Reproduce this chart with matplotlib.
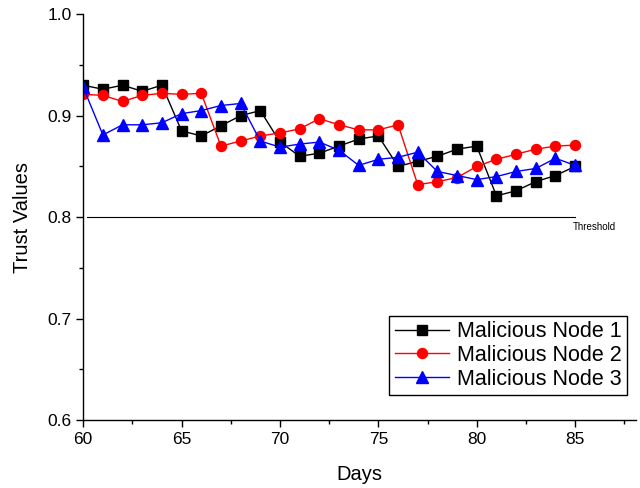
import matplotlib
matplotlib.use("Agg")
import matplotlib.pyplot as plt
from matplotlib.ticker import MultipleLocator, FormatStrFormatter

plt.rcParams['font.family'] = ['Liberation Sans', 'DejaVu Sans']

days = list(range(60, 86))
node1 = [0.930, 0.926, 0.930, 0.924, 0.930, 0.885, 0.880, 0.890, 0.900, 0.905,
         0.874, 0.860, 0.863, 0.870, 0.877, 0.880, 0.850, 0.855, 0.860, 0.867,
         0.870, 0.821, 0.826, 0.835, 0.841, 0.850]
node2 = [0.921, 0.920, 0.914, 0.920, 0.922, 0.921, 0.922, 0.870, 0.875, 0.880,
         0.883, 0.887, 0.897, 0.891, 0.886, 0.886, 0.891, 0.832, 0.835, 0.839,
         0.850, 0.857, 0.862, 0.867, 0.870, 0.871]
node3 = [0.928, 0.881, 0.891, 0.891, 0.893, 0.902, 0.905, 0.910, 0.912, 0.875,
         0.869, 0.872, 0.874, 0.866, 0.851, 0.857, 0.859, 0.864, 0.845, 0.841,
         0.837, 0.840, 0.845, 0.848, 0.858, 0.851]
labels = ["Malicious Node 1", "Malicious Node 2", "Malicious Node 3"]
threshold_value = 0.8
threshold_days = [60.2, 85]

fig = plt.figure(figsize=(6.4, 4.88), dpi=100)
ax = fig.add_axes([0.130, 0.139, 0.864, 0.832])

ax.plot(days, node1, color='black', marker='s', markersize=6.5, lw=1, label=labels[0])
ax.plot(days, node2, color='red', marker='o', markersize=7.2, lw=1, label=labels[1])
ax.plot(days, node3, color='blue', marker='^', markersize=8, lw=1, label=labels[2])

ax.plot(threshold_days, [threshold_value, threshold_value], color='black', lw=0.8)
ax.text(84.9, 0.790, "Threshold", fontsize=7, ha='left', va='center')

ax.set_xlim(60, 88.1)
ax.set_ylim(0.6, 1.0)
ax.xaxis.set_major_locator(MultipleLocator(5))
ax.xaxis.set_minor_locator(MultipleLocator(2.5))
ax.yaxis.set_major_locator(MultipleLocator(0.1))
ax.yaxis.set_minor_locator(MultipleLocator(0.05))
ax.yaxis.set_major_formatter(FormatStrFormatter('%.1f'))

for s in ['top', 'right']:
    ax.spines[s].set_visible(False)
for s in ['left', 'bottom']:
    ax.spines[s].set_linewidth(1.0)

ax.tick_params(which='major', direction='out', length=5, width=1, labelsize=12.5)
ax.tick_params(which='minor', direction='out', length=3, width=1)

ax.set_xlabel("Days", fontsize=14.5, labelpad=13)
ax.set_ylabel("Trust Values", fontsize=14.5, labelpad=11)

leg = ax.legend(loc='lower right', bbox_to_anchor=(0.984, 0.062), fontsize=15.5,
                fancybox=False, edgecolor='black', framealpha=1, borderaxespad=0,
                handlelength=2.5, borderpad=0.25, labelspacing=0.12, handletextpad=0.4)
leg.get_frame().set_linewidth(1.0)

fig.savefig("out.png", dpi=100)
